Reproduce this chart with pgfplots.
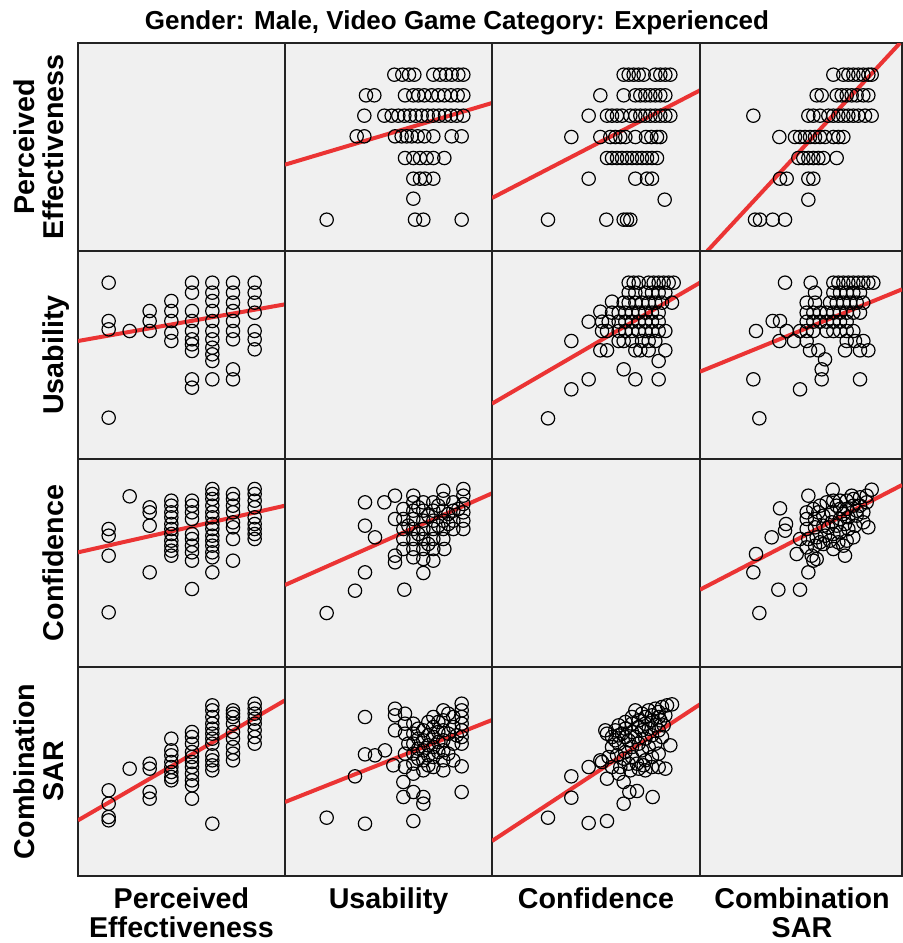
\documentclass[border=0pt]{standalone}
\usepackage{fontspec}
\setmainfont{Liberation Sans}
\usepackage{pgfplots}
\pgfplotsset{compat=1.18}

\definecolor{cellbg}{RGB}{240,240,240}
\definecolor{fitred}{RGB}{235,52,52}
\definecolor{frame}{RGB}{35,35,35}

% every panel of the matrix works in its own pixel grid (3 units per pixel)
\pgfplotsset{
  cell/.style={scale only axis, anchor=north west,
    xtick=\empty, ytick=\empty, y dir=reverse,
    xmin=0, ymin=0,
    axis background/.style={fill=cellbg},
    axis line style={draw=frame, line width=1.2pt}},
  c1/.style={width=155.25pt, xmax=621},
  c2/.style={width=155.25pt, xmax=621},
  c3/.style={width=156pt, xmax=624},
  c4/.style={width=151.5pt, xmax=606},
  r1/.style={height=156pt, ymax=624},
  r2/.style={height=156pt, ymax=624},
  r3/.style={height=156pt, ymax=624},
  r4/.style={height=156.75pt, ymax=627},
  pts/.style={only marks, mark=o, mark size=5pt, black,
    mark options={line width=0.9pt}},
  fit/.style={no marks, fitred, line width=3pt},
}
\newcommand{\lab}{\fontsize{21.5}{24}\selectfont\bfseries}

\begin{document}
\begin{tikzpicture}
\path (0,0) rectangle (677.25pt,-707.25pt);

\node[anchor=base] at (342.75pt,-21.75pt)
  {\fontsize{19.5}{22}\selectfont\bfseries Gender: Male, Video Game Category: Experienced};

% ---------------- row 1: Perceived Effectiveness ----------------
\begin{axis}[cell, c1, r1, at={(58.5pt,-32.25pt)}]
\end{axis}

\begin{axis}[cell, c2, r1, at={(213.75pt,-32.25pt)}]
\addplot[pts] coordinates {
(328,95)(352,95)(372,95)(388,95)(445,95)(465,95)(483,95)(500,95)(520,95)(535,95)
(243,157)(268,157)(360,157)(385,157)(400,157)(418,157)(440,157)(460,157)(478,157)(498,157)(518,157)(535,157)
(238,218)(298,218)(320,218)(340,218)(358,218)(375,218)(392,218)(410,218)(428,218)(445,218)(462,218)(480,218)(498,218)(515,218)(535,218)
(215,280)(238,280)(330,280)(350,280)(365,280)(380,280)(398,280)(418,280)(445,280)(500,280)(530,280)
(360,345)(385,345)(405,345)(425,345)(445,345)(478,345)
(385,407)(405,407)(420,407)(445,407)
(385,467)
(125,530)(390,530)(415,530)(530,530)};
\addplot[fit] coordinates {(0,365)(621,180)};
\end{axis}

\begin{axis}[cell, c3, r1, at={(369pt,-32.25pt)}]
\addplot[pts] coordinates {
(395,95)(410,95)(425,95)(440,95)(455,95)(490,95)(505,95)(520,95)(535,95)
(325,157)(395,157)(430,157)(445,157)(460,157)(475,157)(490,157)(505,157)(520,157)
(290,218)(345,218)(360,218)(375,218)(390,218)(415,218)(430,218)(445,218)(460,218)(475,218)(490,218)(505,218)(520,218)(535,218)
(238,282)(325,282)(355,282)(370,282)(385,282)(400,282)(430,282)(462,282)(478,282)(495,282)(505,282)
(345,345)(360,345)(375,345)(390,345)(405,345)(420,345)(435,345)(450,345)(465,345)(480,345)(495,345)
(290,407)(430,407)(465,407)(480,407)
(518,470)
(168,530)(343,530)(395,530)(405,530)(415,530)};
\addplot[fit] coordinates {(0,465)(624,142)};
\end{axis}

\begin{axis}[cell, c4, r1, at={(525pt,-32.25pt)}]
\addplot[pts] coordinates {
(400,95)(430,95)(445,95)(460,95)(475,95)(490,95)(505,95)(515,95)
(350,157)(365,157)(410,157)(425,157)(440,157)(455,157)(470,157)(490,157)(505,157)
(160,218)(325,218)(340,218)(360,218)(385,218)(400,218)(415,218)(430,218)(445,218)(460,218)(475,218)(495,218)(515,218)
(238,282)(285,282)(300,282)(315,282)(330,282)(345,282)(360,282)(375,282)(400,282)(415,282)(430,282)
(295,345)(310,345)(325,345)(340,345)(355,345)(370,345)(410,345)
(240,407)(260,407)(325,407)(340,407)
(325,470)
(165,530)(180,530)(218,530)(255,530)};
\addplot[fit] coordinates {(22,624)(600,0)};
\end{axis}

% ---------------- row 2: Usability ----------------
\begin{axis}[cell, c1, r2, at={(58.5pt,-188.25pt)}]
\addplot[pts] coordinates {
(92,95)(92,210)(92,235)(92,500)
(155,240)
(215,180)(215,210)(215,240)
(280,150)(280,180)(280,210)(280,245)(280,270)
(342,95)(342,125)(342,180)(342,210)(342,240)(342,265)(342,280)(342,300)(342,385)(342,410)
(403,95)(403,125)(403,150)(403,180)(403,210)(403,240)(403,265)(403,290)(403,310)(403,330)(403,385)
(465,95)(465,125)(465,155)(465,180)(465,210)(465,240)(465,265)(465,355)(465,385)
(530,95)(530,125)(530,155)(530,185)(530,240)(530,265)(530,295)};
\addplot[fit] coordinates {(0,270)(621,160)};
\end{axis}

\begin{axis}[cell, c2, r2, at={(213.75pt,-188.25pt)}]
\end{axis}

\begin{axis}[cell, c3, r2, at={(369pt,-188.25pt)}]
\addplot[pts] coordinates {
(238,270)(290,212)(325,182)(360,152)(290,385)(238,415)(168,502)(395,355)(430,385)(500,385)
(500,330)(520,298)(520,240)(540,155)
(410,95)(425,95)(440,95)(470,95)(485,95)(500,95)(515,95)(530,95)(545,95)
(410,125)(430,125)(460,125)(480,125)(500,125)(520,125)
(395,155)(410,155)(430,155)(450,155)(470,155)(490,155)(510,155)
(360,185)(380,185)(400,185)(420,185)(440,185)(460,185)(480,185)(500,185)
(330,212)(350,212)(380,212)(400,212)(420,212)(440,212)(460,212)(480,212)(500,212)
(330,240)(345,240)(380,240)(400,240)(420,240)(440,240)(460,240)(480,240)(500,240)
(380,270)(395,270)(420,270)(450,270)(470,270)(490,270)
(325,298)(345,298)(430,298)(445,298)(470,298)};
\addplot[fit] coordinates {(0,458)(624,95)};
\end{axis}

\begin{axis}[cell, c4, r2, at={(525pt,-188.25pt)}]
\addplot[pts] coordinates {
(255,95)(332,95)(168,240)(218,210)(240,210)(238,270)(282,270)(160,385)(178,502)(300,415)
(365,385)(365,355)(375,325)(480,385)(330,298)(355,298)(435,298)(480,298)(505,298)
(440,270)(465,270)(490,270)(260,240)(300,240)(320,270)
(400,95)(415,95)(430,95)(445,95)(460,95)(475,95)(490,95)(505,95)(520,95)
(345,125)(400,125)(420,125)(440,125)(460,125)(480,125)
(320,155)(345,155)(390,155)(410,155)(430,155)(450,155)(470,155)(490,155)
(320,185)(340,185)(360,185)(380,185)(400,185)(420,185)(440,185)(460,185)(480,185)
(320,212)(340,212)(360,212)(380,212)(400,212)(420,212)(440,212)
(320,240)(340,240)(380,240)(400,240)(420,240)(440,240)(460,240)};
\addplot[fit] coordinates {(0,362)(606,115)};
\end{axis}

% ---------------- row 3: Confidence ----------------
\begin{axis}[cell, c1, r3, at={(58.5pt,-344.25pt)}]
\addplot[pts] coordinates {
(92,210)(92,230)(92,290)(92,460)
(155,112)
(215,145)(215,160)(215,200)(215,340)
(280,125)(280,140)(280,160)(280,175)(280,195)(280,210)(280,225)(280,245)(280,260)(280,275)(280,290)
(342,125)(342,140)(342,160)(342,180)(342,225)(342,240)(342,260)(342,280)(342,305)(342,390)
(403,90)(403,105)(403,120)(403,140)(403,160)(403,175)(403,195)(403,210)(403,230)(403,245)(403,260)(403,280)(403,295)(403,340)
(465,105)(465,120)(465,140)(465,160)(465,190)(465,205)(465,240)(465,305)
(530,90)(530,105)(530,125)(530,145)(530,175)(530,195)(530,210)(530,225)(530,240)};
\addplot[fit] coordinates {(0,280)(621,140)};
\end{axis}

\begin{axis}[cell, c2, r3, at={(213.75pt,-344.25pt)}]
\addplot[pts] coordinates {
(125,462)(210,395)(240,340)(358,392)(415,342)(240,130)(298,130)(330,110)(240,200)(270,235)
(330,180)(330,290)(330,310)(385,110)(475,95)(535,90)(478,270)(445,305)(385,295)
(355,150)(355,180)(355,210)(355,240)(355,270)
(385,130)(385,155)(385,180)(385,210)(385,240)(385,270)
(415,130)(415,155)(415,185)(415,210)(415,240)(415,270)(415,300)
(445,130)(445,155)(445,185)(445,210)(445,240)(445,270)
(475,120)(475,155)(475,185)(475,210)(475,240)
(505,130)(505,155)(505,185)(505,210)
(535,110)(535,135)(535,160)(535,185)(535,210)
(400,145)(430,170)(460,140)(490,165)(520,150)(400,225)(430,255)(460,200)(490,195)(370,200)};
\addplot[fit] coordinates {(0,378)(621,103)};
\end{axis}

\begin{axis}[cell, c3, r3, at={(369pt,-344.25pt)}]
\end{axis}

\begin{axis}[cell, c4, r3, at={(525pt,-344.25pt)}]
\addplot[pts] coordinates {
(178,462)(235,392)(300,392)(160,340)(168,285)(215,235)(240,148)(258,195)(255,215)(290,285)
(325,340)(340,305)(325,110)(398,92)(515,92)(455,110)(505,205)(435,290)(400,270)
(320,160)(340,150)(360,140)(380,130)(400,125)(420,125)(440,125)(460,120)(480,115)(500,110)
(320,180)(345,180)(370,170)(395,160)(420,150)(440,150)(460,140)(480,140)(500,130)
(320,210)(345,205)(370,200)(395,190)(420,180)(445,175)(470,170)(490,160)
(300,240)(325,240)(350,235)(375,230)(400,225)(420,220)(445,210)(465,200)(490,190)
(320,265)(345,260)(370,255)(415,250)(440,245)(460,235)(335,290)(350,300)
(355,160)(410,140)(430,165)(470,155)(385,205)(410,200)(435,195)(360,250)(390,245)(430,260)};
\addplot[fit] coordinates {(0,392)(606,78)};
\end{axis}

% ---------------- row 4: Combination SAR ----------------
\begin{axis}[cell, c1, r4, at={(58.5pt,-500.25pt)}]
\addplot[pts] coordinates {
(92,370)(92,410)(92,450)(92,460)
(155,305)
(215,290)(215,305)(215,375)(215,395)
(280,215)(280,250)(280,265)(280,285)(280,300)(280,315)(280,330)(280,340)
(342,195)(342,210)(342,230)(342,255)(342,270)(342,285)(342,300)(342,320)(342,340)(342,355)(342,395)
(403,115)(403,130)(403,150)(403,170)(403,185)(403,200)(403,215)(403,230)(403,265)(403,280)(403,295)(403,310)(403,470)
(465,130)(465,140)(465,150)(465,170)(465,195)(465,215)(465,240)(465,260)(465,280)
(530,110)(530,125)(530,140)(530,155)(530,170)(530,190)(530,210)(530,230)};
\addplot[fit] coordinates {(0,460)(621,100)};
\end{axis}

\begin{axis}[cell, c2, r4, at={(213.75pt,-500.25pt)}]
\addplot[pts] coordinates {
(125,452)(240,470)(385,462)(240,150)(210,328)(240,262)(270,265)(300,250)(330,125)(330,145)
(330,190)(325,295)(355,345)(355,390)(385,375)(415,390)(415,410)(530,375)(530,298)
(360,140)(360,170)(360,200)(360,260)(360,300)
(385,170)(385,200)(385,230)(385,260)(385,290)(385,320)
(415,190)(415,220)(415,250)(415,280)(415,310)
(445,150)(445,180)(445,210)(445,240)(445,270)(445,300)
(475,130)(475,160)(475,190)(475,220)(475,250)(475,280)(475,310)
(505,150)(505,180)(505,230)(505,280)
(530,110)(530,130)(530,150)(530,170)(530,190)(530,210)(530,230)
(400,185)(400,215)(400,245)(400,275)(430,165)(430,205)(430,235)(430,265)(430,295)
(460,165)(460,195)(460,225)(460,255)(490,140)(490,200)(490,260)(515,205)(370,230)};
\addplot[fit] coordinates {(0,405)(621,159)};
\end{axis}

\begin{axis}[cell, c3, r4, at={(369pt,-500.25pt)}]
\addplot[pts] coordinates {
(168,452)(238,392)(238,328)(290,468)(345,462)(290,300)(325,280)(345,335)(395,410)(412,375)
(435,372)(482,390)(395,345)(520,305)(535,235)(540,112)(340,190)
(360,210)(380,175)(400,165)(420,150)(430,130)(450,140)(470,130)(490,125)(510,120)(525,115)
(360,240)(380,230)(400,210)(420,195)(440,180)(460,170)(480,160)(500,150)(520,145)
(350,270)(375,265)(400,255)(420,240)(440,230)(460,215)(480,205)(500,190)(515,175)
(360,300)(385,300)(410,290)(435,290)(460,280)(480,270)(500,260)(440,305)(460,310)(480,300)(380,320)
(370,190)(390,200)(410,220)(430,210)(450,190)(470,185)(490,175)(505,160)(395,275)(420,270)
(450,250)(470,240)(490,230)(510,210)(440,160)(460,150)(480,145)(500,135)(420,170)(400,185)
(380,205)(370,220)(415,310)(455,295)(500,300)(345,200)(330,285)};
\addplot[fit] coordinates {(0,522)(624,112)};
\end{axis}

\begin{axis}[cell, c4, r4, at={(525pt,-500.25pt)}]
\end{axis}

% ---------------- variable names ----------------
\begin{scope}[every node/.style={anchor=base, rotate=90, inner sep=0pt}]
\node at (25.5pt,-110.25pt) {\lab Perceived};
\node at (47.25pt,-110.25pt) {\lab Effectiveness};
\node at (47.25pt,-266.25pt) {\lab Usability};
\node at (47.25pt,-422.25pt) {\lab Confidence};
\node at (25.5pt,-578.6pt) {\lab Combination};
\node at (47.25pt,-578.6pt) {\lab SAR};
\end{scope}
\begin{scope}[every node/.style={anchor=base, inner sep=0pt}]
\node at (136.1pt,-681pt) {\lab Perceived};
\node at (136.1pt,-702.75pt) {\lab Effectiveness};
\node at (291.4pt,-681pt) {\lab Usability};
\node at (447pt,-681pt) {\lab Confidence};
\node at (601.5pt,-681pt) {\lab Combination};
\node at (601.5pt,-702.75pt) {\lab SAR};
\end{scope}
\end{tikzpicture}
\end{document}
